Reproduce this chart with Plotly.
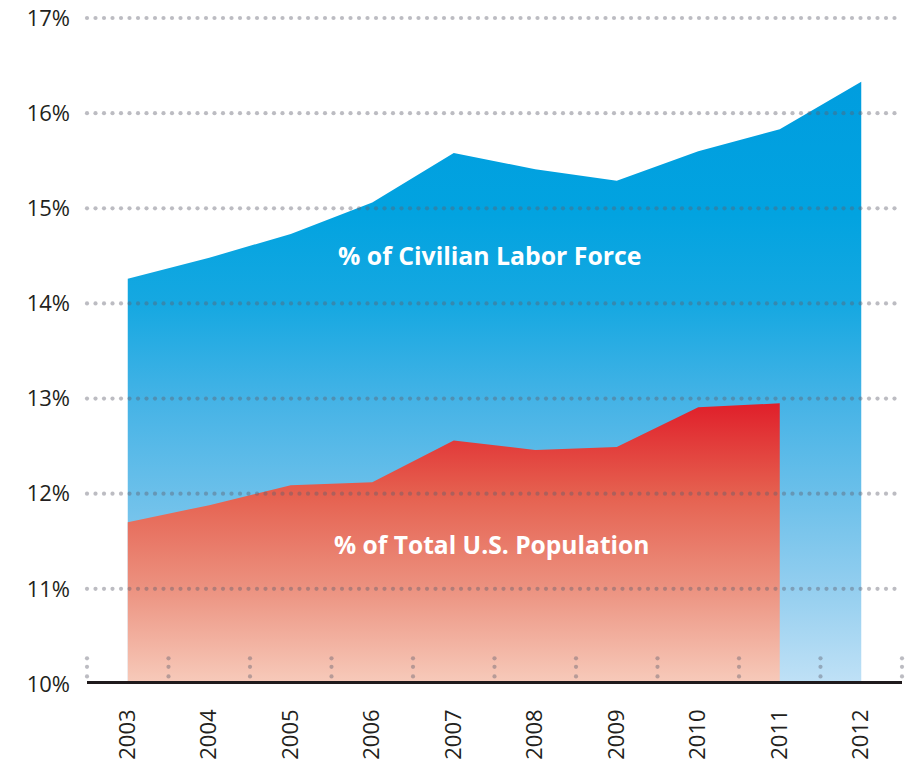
import numpy as np
import plotly.graph_objects as go

years = [2003, 2004, 2005, 2006, 2007, 2008, 2009, 2010, 2011, 2012]
labor_force_pct = [14.26, 14.48, 14.73, 15.06, 15.58, 15.41, 15.29, 15.60, 15.83, 16.33]
pop_years = [2003, 2004, 2005, 2006, 2007, 2008, 2009, 2010, 2011]
population_pct = [11.70, 11.88, 12.09, 12.12, 12.56, 12.46, 12.49, 12.91, 12.95]
y_ticks = [10, 11, 12, 13, 14, 15, 16, 17]
labor_label = "% of Civilian Labor Force"
pop_label = "% of Total U.S. Population"

FONT = "Open Sans"
X0, X1 = years[0] - 0.5, years[-1] + 0.5

fig = go.Figure()

fig.add_trace(go.Scatter(
    x=years, y=labor_force_pct, mode="lines", line=dict(width=0, shape="linear"),
    fill="tozeroy",
    fillgradient=dict(
        type="vertical", start=10, stop=max(labor_force_pct),
        colorscale=[[0.0, "#c0e1f6"], [0.16, "#93ceef"], [0.31, "#6cc0ea"],
                    [0.47, "#45b3e6"], [0.63, "#16a8e1"], [0.78, "#02a3e0"],
                    [1.0, "#009ddf"]],
    ),
    hoverinfo="skip", showlegend=False,
))

fig.add_trace(go.Scatter(
    x=pop_years, y=population_pct, mode="lines", line=dict(width=0),
    fill="tozeroy",
    fillgradient=dict(
        type="vertical", start=10, stop=max(population_pct),
        colorscale=[[0.0, "#f7cbbb"], [0.34, "#ec9280"], [0.68, "#e5604f"],
                    [1.0, "#e01f2a"]],
    ),
    hoverinfo="skip", showlegend=False,
))

# dotted horizontal gridlines (round dots) drawn above the areas
px_per_year = 81.5
dot_step = 8.5 / px_per_year
gx = np.arange(X0, X1 + 0.04, dot_step)
grid_x, grid_y = [], []
for t in y_ticks[1:]:
    grid_x.extend(gx.tolist())
    grid_y.extend([t] * len(gx))
fig.add_trace(go.Scatter(
    x=grid_x, y=grid_y, mode="markers",
    marker=dict(size=4.2, color="rgba(95,95,110,0.42)", line=dict(width=0)),
    hoverinfo="skip", showlegend=False, cliponaxis=False,
))

# small vertical dotted ticks between years
bx = [y - 0.5 for y in years] + [years[-1] + 0.5]
vx, vy = [], []
for b in bx:
    for d in (10.08, 10.18, 10.27):
        vx.append(b)
        vy.append(d)
fig.add_trace(go.Scatter(
    x=vx, y=vy, mode="markers",
    marker=dict(size=4.2, color="rgba(95,95,110,0.42)", line=dict(width=0)),
    hoverinfo="skip", showlegend=False, cliponaxis=False,
))

# thick baseline
fig.add_shape(type="line", xref="x", yref="y", x0=X0, x1=X1 + 0.03, y0=10, y1=10,
              line=dict(color="#1f1a1c", width=6), layer="above")

fig.add_annotation(x=2007.44, y=14.51, text=f"<b>{labor_label}</b>", showarrow=False,
                   font=dict(family=FONT, size=24.8, color="white"))
fig.add_annotation(x=2007.46, y=11.47, text=f"<b>{pop_label}</b>", showarrow=False,
                   font=dict(family=FONT, size=24.6, color="white"))

fig.update_layout(
    width=909, height=770,
    margin=dict(l=87, r=7, t=18, b=86, autoexpand=False),
    paper_bgcolor="white", plot_bgcolor="white",
    font=dict(family=FONT, color="#231f20"),
    hovermode=False,
    xaxis=dict(range=[X0, X1], tickvals=years, ticktext=[str(y) for y in years],
               tickangle=-90, showgrid=False, zeroline=False, showline=False,
               ticks="", tickfont=dict(size=22, color="#231f20"),
               ticklabelstandoff=20, ticklabeloverflow="allow",
               automargin=False, fixedrange=True),
    yaxis=dict(range=[10, 17], tickvals=y_ticks, ticktext=[f"{t}%" for t in y_ticks],
               showgrid=False, zeroline=False, showline=False, ticks="",
               tickfont=dict(size=22, color="#231f20"), ticklabelstandoff=16,
               ticklabeloverflow="allow", automargin=False, fixedrange=True),
)

fig.write_html("out.html", config={"displayModeBar": False},
               post_script="document.body.style.margin='0';")
